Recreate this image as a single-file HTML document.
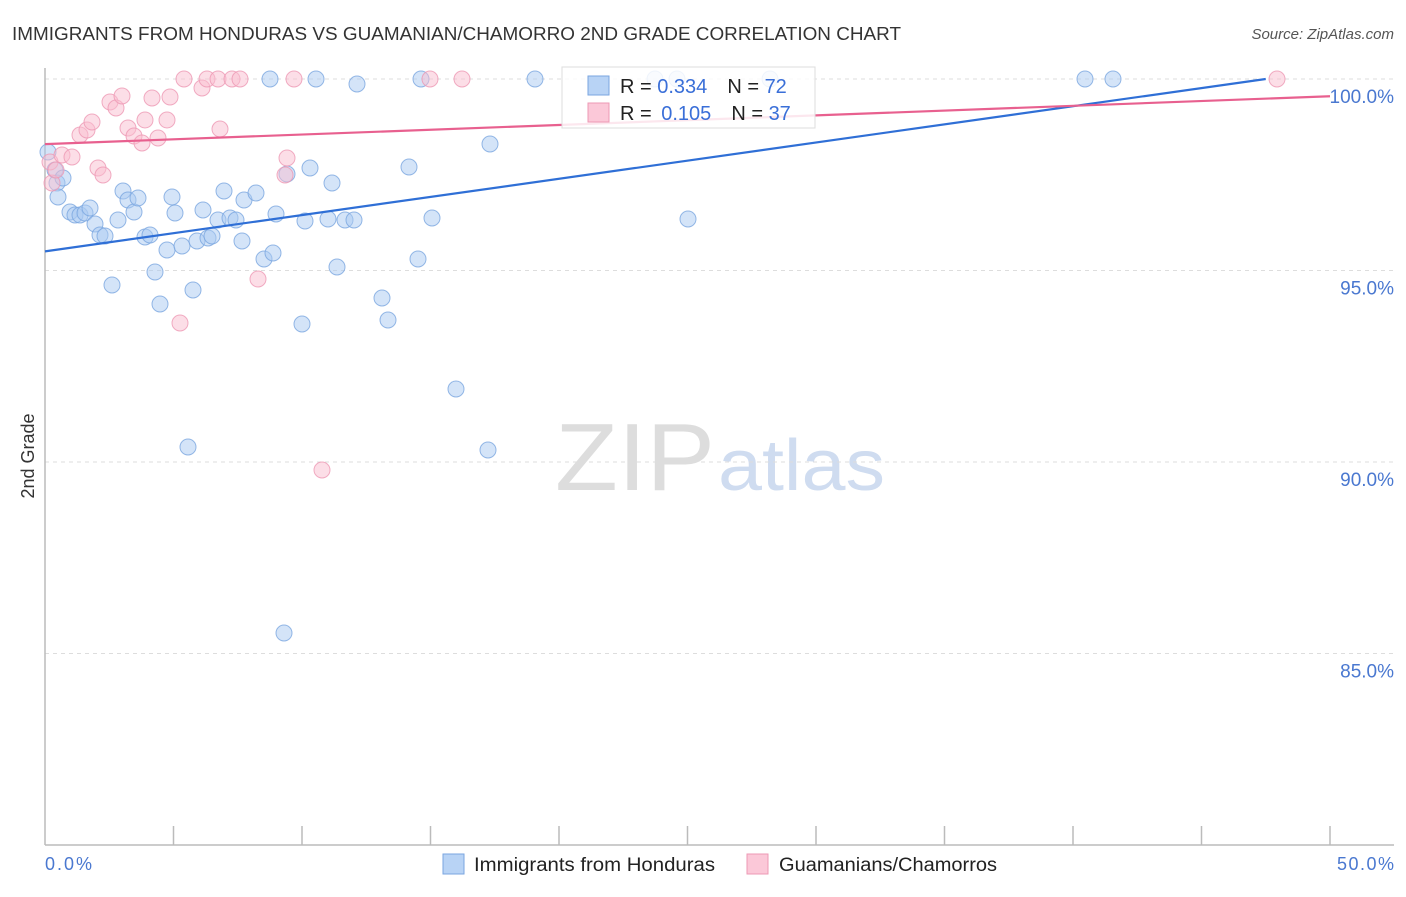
<!DOCTYPE html>
<html><head><meta charset="utf-8"><style>
body{margin:0;background:#fff;font-family:"Liberation Sans",sans-serif;}
svg text{font-family:"Liberation Sans",sans-serif;}
</style></head><body>
<svg id="chart" width="1406" height="892" xmlns="http://www.w3.org/2000/svg">
<text x="12" y="40" font-size="18" fill="#333" textLength="889" lengthAdjust="spacingAndGlyphs">IMMIGRANTS FROM HONDURAS VS GUAMANIAN/CHAMORRO 2ND GRADE CORRELATION CHART</text>
<text x="1394" y="39" font-size="15" fill="#555" font-style="italic" text-anchor="end">Source: ZipAtlas.com</text>
<text x="34" y="456" font-size="18" fill="#333" transform="rotate(-90 34 456)" text-anchor="middle">2nd Grade</text>
<text x="555" y="490" font-size="96" fill="#ddd" textLength="160" lengthAdjust="spacingAndGlyphs" font-family="Liberation Serif">ZIP</text>
<text x="718" y="490" font-size="72" fill="#cfdcf0" textLength="167" lengthAdjust="spacingAndGlyphs">atlas</text>
<g id="grid"></g>
<line x1="45" y1="68" x2="45" y2="845" stroke="#bbb" stroke-width="1.5"/>
<line x1="45" y1="845" x2="1394" y2="845" stroke="#bbb" stroke-width="1.5"/>
<g id="ticks"></g>
<g id="pts"></g>
<g id="trend"></g>
<g>
<rect x="562" y="67" width="253" height="61" fill="#fff" fill-opacity="0.85" stroke="#ddd"/>
<rect x="588" y="76" width="21" height="19" fill="#b8d3f5" stroke="#7aa6e0"/>
<text x="620" y="93" font-size="20" fill="#222">R = <tspan fill="#3a6fd8">0.334</tspan><tspan dx="20">N = </tspan><tspan fill="#3a6fd8">72</tspan></text>
<rect x="588" y="103" width="21" height="19" fill="#fbc8d8" stroke="#ee99b4"/>
<text x="620" y="120" font-size="20" fill="#222">R = <tspan fill="#3a6fd8" dx="4">0.105</tspan><tspan dx="20">N = </tspan><tspan fill="#3a6fd8">37</tspan></text>
</g>
<text x="45" y="870" font-size="18" fill="#4a78d0" textLength="47">0.0%</text>
<text x="1394" y="870" font-size="18" fill="#4a78d0" text-anchor="end" textLength="57">50.0%</text>
<rect x="443" y="854" width="21" height="20" fill="#b8d3f5" stroke="#7aa6e0"/>
<text x="474" y="871" font-size="19" fill="#222" textLength="241" lengthAdjust="spacingAndGlyphs">Immigrants from Honduras</text>
<rect x="747" y="854" width="21" height="20" fill="#fbc8d8" stroke="#ee99b4"/>
<text x="779" y="871" font-size="19" fill="#222" textLength="218" lengthAdjust="spacingAndGlyphs">Guamanians/Chamorros</text>
</svg>
<script>
const yTicks=[100,95,90,85];
const yTickLabels=["100.0%","95.0%","90.0%","85.0%"];
const blueX=[48,55,57,58,63,70,75,80,85,90,95,100,105,112,118,123,128,134,138,145,150,155,160,167,172,175,182,188,193,197,203,208,212,218,224,230,236,242,244,256,264,270,273,276,284,287,302,305,310,316,328,332,337,345,354,357,382,388,409,418,421,432,456,488,490,535,655,677,688,770,1085,1113];
const blueY=[152,170,183,197,178,212,215,215,213,208,224,235,236,285,220,191,200,212,198,237,235,272,304,250,197,213,246,447,290,241,210,238,236,220,191,218,220,241,200,193,259,79,253,214,633,174,324,221,168,79,219,183,267,220,220,84,298,320,167,259,79,218,389,450,144,79,79,79,219,79,79,79];
const pinkX=[50,52,56,62,72,80,87,92,98,103,110,116,122,128,134,142,145,152,158,167,170,180,184,202,207,218,220,232,240,258,285,287,294,322,430,462,1277];
const pinkY=[162,183,170,155,157,135,130,122,168,175,102,108,96,128,136,143,120,98,138,120,97,323,79,88,79,79,129,79,79,279,175,158,79,470,79,79,79];
const hondurasX=blueX.map(p=>(p-45)/25.7), hondurasY=blueY.map(p=>100-(p-79)/38.3);
const chamorroX=pinkX.map(p=>(p-45)/25.7), chamorroY=pinkY.map(p=>100-(p-79)/38.3);
const blueTrend=[[0,95.5],[47.5,100]];
const pinkTrend=[[0,98.3],[50,99.55]];
const xs=v=>45+v*25.7, ys=v=>79+(100-v)*38.3;
const NS="http://www.w3.org/2000/svg";
const grid=document.getElementById('grid');
yTicks.forEach((t,i)=>{
 const l=document.createElementNS(NS,'line');
 l.setAttribute('x1',45);l.setAttribute('x2',1394);l.setAttribute('y1',ys(t));l.setAttribute('y2',ys(t));
 l.setAttribute('stroke','#ddd');l.setAttribute('stroke-dasharray','4,4');
 
 
 grid.appendChild(l);
 const tx=document.createElementNS(NS,'text');
 tx.setAttribute('x',1394);tx.setAttribute('y',ys(t)+24);tx.setAttribute('text-anchor','end');
 tx.setAttribute('font-size','19');tx.setAttribute('fill','#4a78d0');tx.textContent=yTickLabels[i];
 
 
 grid.appendChild(tx);
});
const ticks=document.getElementById('ticks');
for(let i=1;i<=10;i++){
 const l=document.createElementNS(NS,'line');
 const x=xs(i*5);
 l.setAttribute('x1',x);l.setAttribute('x2',x);l.setAttribute('y1',826);l.setAttribute('y2',845);
 l.setAttribute('stroke','#bbb');l.setAttribute('stroke-width','1.5');
 
 
 ticks.appendChild(l);
}
const pts=document.getElementById('pts');
function dots(X,Y,fill,stroke,name){
 X.forEach((x,i)=>{
  const c=document.createElementNS(NS,'circle');
  c.setAttribute('cx',xs(x));c.setAttribute('cy',ys(Y[i]));c.setAttribute('r',8);
  c.setAttribute('fill',fill);c.setAttribute('fill-opacity','0.5');c.setAttribute('stroke',stroke);c.setAttribute('stroke-opacity','0.8');
  
  
  pts.appendChild(c);
 });
}
dots(hondurasX,hondurasY,'#a9c9f2','#7aa6e0','honduras-point');
dots(chamorroX,chamorroY,'#f9bdd0','#ee99b4','chamorro-point');
const tr=document.getElementById('trend');
[[blueTrend,'#2f6fd6','honduras-trendline'],[pinkTrend,'#e8608f','chamorro-trendline']].forEach(([t,c,n])=>{
 const l=document.createElementNS(NS,'line');
 l.setAttribute('x1',xs(t[0][0]));l.setAttribute('y1',ys(t[0][1]));l.setAttribute('x2',xs(t[1][0]));l.setAttribute('y2',ys(t[1][1]));
 l.setAttribute('stroke',c);l.setAttribute('stroke-width','2.2');
 
 
 tr.appendChild(l);
});
</script>
</body></html>
